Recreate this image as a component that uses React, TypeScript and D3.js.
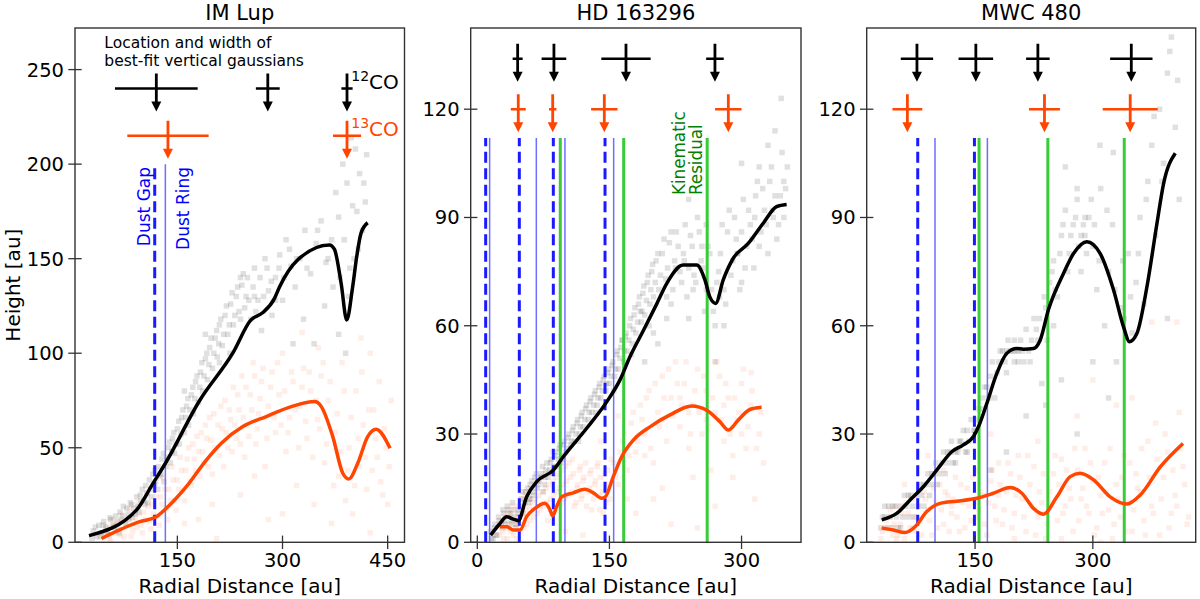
import React from "react";
import * as d3 from "d3";

type P = [number, number];

// ---------------- IM Lup ----------------
const imLupXDomain: P = [4, 474];
const imLupYDomain: P = [0, 272];
const imLupXTicks = [150, 300, 450];
const imLupYTicks = [0, 50, 100, 150, 200, 250];

const imLupCurve12: P[] = [
  [24, 3.5], [91.6, 17], [115, 31], [133, 41.8], [181.8, 75], [229, 100], [255, 117.6], [272, 121.5],
  [288.6, 129], [295.7, 135], [321.8, 149.4], [367, 157.3], [374, 155], [383.6, 137], [391.6, 117.6],
  [400, 135], [405.8, 151], [412, 163.5], [421.5, 169],
];
const imLupCurve13: P[] = [
  [41.7, 2], [96.3, 10.9], [120, 13.5], [134.3, 18], [162.8, 29.4], [191.3, 43.5], [212.7, 52.4],
  [243.4, 61.2], [276.8, 66.5], [314.7, 72], [345.6, 74.4], [355, 72], [371.7, 55.9], [386, 36.5],
  [394.5, 33.5], [407.3, 41.8], [421.5, 55.9], [433.5, 59.8], [453.4, 49.7],
];
const imLupScatter12: P[] = [
  [30, 6], [35, 3], [38, 9], [42, 5], [45, 11], [48, 8], [52, 4], [55, 12], [58, 9], [62, 14], [65, 7], [68, 16],
  [70, 12], [73, 19], [76, 10], [80, 15], [83, 21], [86, 13], [88, 18], [92, 24], [95, 16], [98, 22], [100, 28],
  [104, 20], [107, 26], [110, 33], [113, 24], [116, 30], [118, 38], [122, 28], [125, 35], [128, 44], [131, 32],
  [134, 40], [137, 50], [140, 42], [143, 55], [146, 47], [150, 60], [153, 52], [156, 66], [160, 58], [163, 72],
  [166, 62], [170, 78], [173, 68], [176, 85], [180, 74], [183, 90], [186, 80], [190, 97], [193, 86], [196, 103],
  [200, 92], [204, 108], [207, 98], [210, 115], [214, 104], [218, 120], [222, 110], [226, 126], [230, 115],
  [234, 130], [238, 122], [242, 136], [246, 124], [250, 140], [255, 118], [260, 145], [265, 128], [270, 112],
  [275, 150], [280, 133], [285, 120], [290, 140], [296, 152], [300, 128], [305, 160], [312, 146], [318, 135],
  [325, 150], [332, 165], [340, 142], [348, 158], [355, 170], [362, 148], [370, 160], [376, 185], [382, 140],
  [386, 200], [390, 100], [394, 130], [398, 214], [402, 150], [406, 175], [410, 195], [414, 165], [418, 180],
  [420, 205], [380, 110], [360, 125], [345, 105], [330, 118], [315, 105], [404, 208], [392, 190], [380, 172],
  [400, 178], [160, 80], [190, 110], [210, 95], [240, 140], [260, 130], [225, 100],
  [28, 2], [33, 8], [40, 3], [44, 9], [50, 6], [54, 13], [60, 8], [64, 11], [67, 5], [72, 14], [78, 18], [81, 12],
  [85, 20], [90, 15], [94, 19], [97, 25], [102, 22], [105, 30], [108, 21], [112, 28], [115, 36], [119, 32],
  [123, 40], [127, 36], [130, 47], [135, 45], [139, 53], [142, 48], [145, 58], [148, 52], [152, 64], [155, 57],
  [158, 70], [162, 66], [165, 76], [168, 70], [172, 82], [175, 76], [178, 88], [182, 82], [185, 95], [188, 88],
  [192, 100], [195, 94], [198, 108], [202, 100], [206, 112], [209, 105], [212, 118], [216, 110], [220, 125],
  [224, 115], [228, 132], [232, 120], [236, 135], [240, 118], [244, 142], [248, 130], [252, 128], [258, 135],
  [262, 122], [268, 140], [273, 130], [278, 145], [284, 138], [290, 128], [295, 145], [302, 140], [310, 155],
  [320, 150], [335, 145], [350, 165], [365, 150], [372, 135], [388, 160], [396, 145], [408, 155], [416, 190],
];
const imLupScatter13: P[] = [
  [45, 3], [50, 8], [55, 1], [58, 12], [62, 5], [66, 10], [70, 15], [74, 3], [78, 9], [82, 18], [86, 6], [90, 13],
  [94, 21], [98, 9], [102, 16], [106, 25], [110, 11], [114, 20], [118, 30], [122, 14], [126, 24], [130, 34],
  [134, 18], [138, 28], [142, 40], [146, 22], [150, 33], [154, 45], [158, 27], [162, 38], [166, 50], [170, 30],
  [174, 44], [178, 56], [182, 35], [186, 48], [190, 62], [194, 40], [198, 54], [202, 68], [206, 2], [210, 46],
  [214, 60], [218, 75], [222, 50], [226, 65], [230, 82], [234, 55], [238, 70], [242, 88], [246, 45], [250, 62],
  [254, 78], [258, 95], [262, 52], [266, 68], [270, 85], [275, 40], [280, 72], [285, 90], [290, 58], [295, 78],
  [300, 100], [305, 48], [310, 66], [315, 85], [320, 30], [325, 72], [330, 92], [335, 55], [340, 80], [345, 20],
  [350, 65], [355, 88], [360, 42], [365, 75], [370, 10], [375, 58], [380, 35], [385, 95], [390, 22], [395, 50],
  [400, 15], [405, 80], [410, 40], [415, 62], [420, 28], [425, 5], [430, 70], [435, 45], [440, 32], [445, 60],
  [450, 20], [455, 75], [200, 20], [180, 12], [160, 10], [240, 25], [260, 35], [300, 15], [280, 12], [328, 111],
  [351, 103], [412, 108], [425, 100],
  [48, 5], [53, 2], [60, 9], [68, 4], [72, 11], [80, 13], [84, 3], [92, 8], [96, 15], [100, 5], [104, 12],
  [108, 19], [112, 7], [116, 15], [120, 24], [124, 9], [128, 20], [132, 28], [136, 12], [140, 22], [144, 33],
  [148, 17], [152, 28], [156, 38], [160, 22], [164, 44], [168, 32], [172, 52], [176, 38], [180, 48], [184, 58],
  [188, 42], [192, 55], [196, 66], [200, 36], [204, 50], [208, 62], [212, 72], [216, 40], [220, 58], [224, 70],
  [228, 48], [232, 62], [236, 78], [240, 52], [244, 66], [248, 82], [252, 56], [256, 70], [260, 88], [264, 60],
  [268, 76], [272, 92], [278, 55], [283, 82], [288, 66], [293, 95], [298, 62], [303, 80], [308, 58], [313, 90],
  [318, 70], [323, 50], [328, 82], [333, 64], [338, 90], [343, 45], [348, 75], [353, 60], [358, 95], [363, 52],
  [368, 85], [373, 30], [378, 68], [383, 48], [388, 80], [393, 38], [398, 66], [403, 30], [408, 55], [413, 90],
  [418, 45], [423, 70], [428, 38], [433, 55], [438, 85], [443, 25], [448, 50], [452, 40],
];
const imLupGaussZ: P = [240, 215];
const imLupGauss12: P[] = [[120, 59], [279, 17], [392, 8]];
const imLupGauss13: P[] = [[136.6, 58], [392, 20]];
const imLupGaps = [117.7];
const imLupRings = [132.9];
const imLupKinematic: number[] = [];
const imLupLineTop = 200;

// ---------------- HD 163296 ----------------
const hdXDomain: P = [-7.5, 367.5];
const hdYDomain: P = [0, 142.5];
const hdXTicks = [0, 150, 300];
const hdYTicks = [0, 30, 60, 90, 120];

const hdCurve12: P[] = [
  [15.2, 2], [25, 5], [33.4, 7.1], [40.9, 6.4], [46.5, 6], [56, 12.6], [67.4, 16.8], [86.3, 20], [97.6, 23.7],
  [124.2, 31.6], [146.9, 38.9], [162, 45], [173.3, 51.4], [188.4, 58.6], [203.6, 66], [215, 71.7], [233.8, 76.8],
  [249, 76.8], [258.4, 72.7], [264, 68], [270.6, 66.2], [279.2, 72.7], [290.6, 78.7], [307.6, 82.8],
  [324.6, 88.4], [339.8, 93], [351.2, 93.6],
];
const hdCurve13: P[] = [
  [25.8, 4.3], [33.4, 4.3], [40.9, 3.4], [48.5, 3.4], [56, 7.1], [65.5, 9.4], [76.8, 10.8], [82.5, 9], [85.6, 7.3],
  [90.1, 9.9], [95.8, 12.6], [109, 13.7], [122.2, 14.7], [131.7, 13.7], [141.2, 12.2], [145, 12.5], [154.4, 18.2],
  [163.9, 23.7], [177.1, 28.3], [196, 32], [218.7, 35.3], [243.4, 37.8], [260.4, 36.6], [275.5, 33.4],
  [285, 31.1], [296.3, 33.9], [309.5, 36.8], [322.8, 37.4],
];
const hdScatter12: P[] = [
  [15, 3], [18, 1], [20, 5], [22, 2], [25, 6], [28, 4], [30, 8], [32, 5], [35, 9], [38, 6], [40, 11], [42, 7],
  [45, 5], [47, 9], [50, 12], [52, 8], [55, 14], [58, 11], [60, 16], [63, 13], [65, 18], [68, 15], [70, 17],
  [73, 19], [76, 16], [78, 20], [80, 18], [83, 22], [86, 19], [88, 24], [90, 21], [93, 26], [96, 23], [98, 27],
  [100, 25], [103, 29], [106, 27], [108, 31], [110, 28], [113, 33], [116, 30], [118, 35], [120, 32], [123, 37],
  [126, 34], [128, 39], [130, 36], [133, 41], [136, 38], [138, 43], [140, 40], [143, 45], [146, 42], [148, 47],
  [150, 44], [153, 49], [156, 46], [158, 52], [160, 48], [163, 54], [166, 50], [168, 57], [170, 53], [173, 60],
  [176, 55], [178, 63], [180, 58], [183, 66], [186, 61], [188, 69], [190, 63], [193, 72], [196, 66], [198, 75],
  [200, 68], [203, 78], [206, 70], [210, 80], [214, 73], [218, 83], [222, 70], [226, 86], [230, 75], [234, 80],
  [238, 68], [242, 85], [246, 74], [250, 90], [254, 78], [258, 64], [262, 82], [266, 70], [270, 60], [274, 75],
  [278, 88], [282, 66], [286, 92], [290, 78], [294, 84], [298, 70], [302, 95], [306, 82], [310, 88], [314, 76],
  [318, 100], [322, 86], [326, 92], [330, 80], [334, 104], [338, 96], [342, 88], [346, 108], [350, 98],
  [345, 123], [330, 110], [300, 105], [240, 95], [270, 50], [205, 55], [215, 62], [190, 50], [60, 12], [75, 14],
  [95, 22], [115, 28], [135, 36], [155, 42], [175, 52], [195, 60], [215, 68], [235, 78], [255, 82], [275, 68],
  [295, 80], [315, 90], [335, 92], [348, 100], [225, 76], [245, 70], [185, 64], [165, 56],
  [16, 1], [19, 4], [21, 2], [24, 7], [27, 5], [29, 9], [31, 6], [34, 10], [37, 8], [39, 5], [41, 9], [44, 4],
  [46, 8], [49, 10], [51, 14], [54, 11], [57, 15], [59, 12], [62, 17], [64, 14], [67, 19], [69, 16], [72, 18],
  [74, 21], [77, 18], [79, 22], [82, 20], [84, 23], [87, 21], [89, 25], [92, 23], [94, 27], [97, 24], [99, 28],
  [102, 26], [104, 30], [107, 28], [109, 32], [112, 30], [114, 34], [117, 32], [119, 36], [122, 34], [124, 38],
  [127, 36], [129, 40], [132, 38], [134, 42], [137, 40], [139, 44], [142, 42], [144, 46], [147, 44], [149, 48],
  [152, 46], [154, 50], [157, 48], [159, 53], [162, 51], [164, 56], [167, 53], [169, 58], [172, 56], [174, 62],
  [177, 59], [179, 65], [182, 61], [184, 68], [187, 64], [189, 71], [192, 67], [194, 74], [197, 70], [199, 77],
  [202, 72], [205, 80], [208, 74], [212, 84], [216, 76], [220, 86], [224, 78], [228, 82], [232, 72], [236, 88],
  [240, 76], [244, 82], [248, 72], [252, 86], [256, 76], [260, 70], [264, 80], [268, 64], [272, 72], [276, 80],
  [280, 70], [284, 86], [288, 74], [292, 90], [296, 80], [300, 86], [304, 76], [308, 92], [312, 84], [316, 96],
  [320, 82], [324, 98], [328, 88], [332, 100], [336, 90], [340, 84], [344, 96], [348, 90], [352, 104],
  [240, 62], [220, 66], [200, 58], [260, 88], [280, 60], [300, 72], [320, 104], [338, 114],
];
const hdScatter13: P[] = [
  [25, 2], [28, 6], [30, 1], [33, 4], [35, 8], [38, 3], [40, 10], [43, 5], [45, 1], [48, 7], [50, 12], [53, 4],
  [55, 9], [58, 14], [60, 6], [63, 11], [65, 16], [68, 8], [70, 13], [73, 18], [75, 10], [78, 15], [80, 6],
  [83, 12], [86, 17], [88, 9], [90, 14], [93, 19], [96, 11], [98, 16], [100, 21], [103, 13], [106, 18], [108, 23],
  [110, 10], [113, 15], [116, 20], [118, 12], [120, 17], [123, 22], [126, 14], [128, 19], [130, 9], [133, 16],
  [136, 21], [138, 13], [140, 18], [143, 8], [146, 15], [148, 20], [150, 12], [155, 22], [160, 16], [165, 28],
  [170, 20], [175, 33], [180, 25], [185, 38], [190, 30], [195, 42], [200, 22], [205, 36], [210, 46], [215, 28],
  [220, 40], [225, 50], [230, 32], [235, 44], [240, 26], [245, 38], [250, 48], [255, 30], [260, 42], [265, 20],
  [270, 36], [275, 46], [280, 28], [285, 40], [290, 18], [295, 34], [300, 44], [305, 26], [310, 38], [315, 12],
  [320, 30], [325, 22], [180, 8], [200, 12], [220, 5], [250, 4], [270, 10], [160, 35], [140, 28], [120, 2],
  [100, 3], [85, 25], [311, 47], [230, 40], [260, 34], [280, 38], [210, 34], [190, 24], [240, 36], [300, 30],
  [26, 5], [29, 3], [31, 7], [34, 1], [36, 5], [39, 8], [41, 2], [44, 6], [46, 10], [49, 3], [51, 8], [54, 13],
  [56, 5], [59, 10], [61, 15], [64, 7], [66, 12], [69, 17], [71, 9], [74, 14], [76, 19], [79, 11], [81, 16],
  [84, 8], [87, 13], [89, 18], [92, 10], [94, 15], [97, 20], [99, 12], [101, 17], [104, 22], [107, 14], [109, 19],
  [112, 11], [114, 16], [117, 21], [119, 13], [121, 18], [124, 10], [127, 15], [129, 20], [132, 12], [134, 17],
  [137, 22], [139, 9], [142, 14], [145, 19], [147, 11], [149, 16], [152, 23], [157, 18], [162, 25], [167, 30],
  [172, 24], [177, 36], [182, 28], [187, 34], [192, 40], [197, 26], [202, 44], [207, 32], [212, 40], [217, 48],
  [222, 35], [227, 44], [232, 38], [237, 50], [242, 30], [247, 42], [252, 36], [257, 46], [262, 32], [267, 40],
  [272, 50], [277, 34], [282, 44], [287, 30], [292, 40], [297, 36], [302, 48], [307, 32], [312, 42], [317, 26],
  [322, 36], [210, 15], [245, 18], [290, 24], [170, 12],
];
const hdGaussZ: P = [134, 120];
const hdGauss12: P[] = [[45.8, 5.7], [87, 14], [168.8, 28], [269.8, 10]];
const hdGauss13: P[] = [[46.5, 8.5], [85.6, 4.2], [144.2, 15], [285, 15]];
const hdGaps = [9.5, 47.7, 86.3, 145];
const hdRings = [14, 67, 99.5, 154.8];
const hdKinematic = [94.2, 166.2, 261];
const hdLineTop = 112;

// ---------------- MWC 480 ----------------
const mwcXDomain: P = [12, 431];
const mwcYDomain: P = [0, 142.5];
const mwcXTicks = [150, 300];
const mwcYTicks = [0, 30, 60, 90, 120];

const mwcCurve12: P[] = [
  [31.1, 6.2], [50.2, 8], [67.2, 11.7], [84.1, 15.4], [101.2, 20], [120.3, 25.1], [135.1, 27], [148, 29.3],
  [154.3, 32], [165, 38.5], [177.7, 46.8], [190.5, 52.4], [203.2, 53.7], [211.6, 53.5], [224.4, 53.7],
  [232.9, 56], [243.5, 64.5], [262.6, 74.5], [275.4, 80], [292.4, 83.3], [309.4, 80], [326.4, 69.9],
  [339.1, 59.7], [346.8, 55.6], [356.2, 57.9], [368.9, 70.8], [381.7, 88.4], [390.1, 99.4], [405, 107.8],
];
const mwcCurve13: P[] = [
  [31.1, 4], [45.9, 3.4], [60.8, 2.7], [73.6, 4.3], [88.5, 8.5], [105.4, 10.8], [126.7, 11.4], [152.2, 12.2],
  [173.4, 13.6], [194.7, 15.2], [209.6, 13.6], [224.4, 9.4], [237.1, 7.8], [254.2, 12.6], [271.2, 18.2],
  [283.9, 19.1], [300.9, 17.3], [322.1, 12.6], [343.4, 10.6], [360.4, 13.1], [385.9, 20.9], [414.8, 27.4],
];
const mwcScatter12: P[] = [
  [30, 4], [35, 7], [40, 10], [45, 4], [50, 7], [55, 10], [60, 13], [65, 7], [70, 10], [75, 13], [80, 16],
  [85, 10], [90, 19], [95, 16], [100, 22], [105, 19], [110, 25], [115, 22], [120, 28], [125, 25], [130, 28],
  [135, 31], [140, 25], [145, 34], [150, 31], [155, 37], [160, 40], [165, 43], [170, 46], [175, 40], [180, 50],
  [185, 53], [190, 47], [195, 53], [200, 56], [205, 50], [210, 53], [215, 59], [220, 50], [225, 62], [230, 56],
  [235, 44], [240, 65], [245, 72], [250, 78], [255, 68], [260, 85], [265, 92], [270, 80], [275, 88], [280, 95],
  [285, 75], [290, 85], [295, 90], [300, 82], [305, 70], [310, 98], [315, 60], [320, 75], [325, 88], [330, 50],
  [335, 65], [340, 62], [345, 80], [350, 58], [355, 72], [360, 90], [365, 66], [370, 100], [375, 110], [380, 85],
  [385, 120], [390, 105], [395, 130], [400, 140], [405, 115], [410, 95], [395, 62], [215, 35], [190, 25],
  [170, 20], [240, 38], [260, 45], [280, 30], [300, 50], [320, 40], [309, 110], [326, 108], [265, 104],
  [280, 98], [398, 136], [35, 10], [45, 10], [55, 4], [65, 13], [85, 16], [95, 19], [115, 25], [125, 22],
  [140, 31], [190, 53], [200, 50], [205, 53], [285, 85], [290, 90], [250, 60],
  [32, 7], [38, 4], [42, 7], [48, 10], [52, 4], [58, 7], [62, 10], [68, 13], [72, 7], [78, 10], [82, 13], [88, 16],
  [92, 13], [98, 19], [102, 16], [108, 22], [112, 19], [118, 25], [122, 22], [128, 25], [132, 28], [138, 25],
  [142, 28], [148, 31], [152, 34], [158, 37], [162, 43], [168, 40], [172, 50], [178, 47], [182, 53], [188, 50],
  [192, 56], [198, 53], [202, 53], [208, 56], [212, 50], [218, 53], [222, 56], [228, 59], [232, 62], [238, 68],
  [242, 56], [248, 75], [252, 70], [258, 80], [262, 88], [268, 75], [272, 85], [278, 90], [282, 82], [288, 88],
  [292, 80], [298, 95], [302, 88], [308, 78], [318, 92], [328, 70], [338, 78], [348, 68], [358, 80], [368, 95],
  [378, 118], [388, 100], [408, 128],
];
const mwcScatter13: P[] = [
  [30, 1], [35, 4], [40, 7], [45, 2], [50, 10], [55, 5], [60, 1], [65, 8], [70, 12], [75, 3], [80, 6], [85, 14],
  [90, 9], [95, 2], [100, 11], [105, 16], [110, 5], [115, 13], [120, 8], [125, 18], [130, 3], [135, 11],
  [140, 15], [145, 6], [150, 20], [155, 9], [160, 13], [165, 2], [170, 17], [175, 10], [180, 22], [185, 5],
  [190, 14], [195, 19], [200, 8], [205, 24], [210, 12], [215, 3], [220, 16], [225, 21], [230, 7], [235, 11],
  [240, 1], [245, 14], [250, 19], [255, 6], [260, 23], [265, 10], [270, 15], [275, 3], [280, 20], [285, 12],
  [290, 26], [295, 8], [300, 17], [305, 4], [310, 13], [315, 22], [320, 9], [325, 1], [330, 16], [335, 7],
  [340, 24], [345, 11], [350, 3], [355, 19], [360, 14], [365, 6], [370, 28], [375, 10], [380, 33], [385, 2],
  [390, 18], [395, 25], [400, 8], [405, 13], [410, 36], [415, 21], [420, 5], [90, 24], [130, 26], [170, 30],
  [230, 28], [280, 35], [350, 40], [60, 16], [110, 20], [200, 1], [260, 1], [310, 0], [375, 61], [407, 61],
  [300, 45], [330, 38], [40, 4], [50, 1], [70, 4], [120, 10], [150, 11], [180, 13],
  [32, 3], [37, 6], [42, 9], [47, 5], [52, 2], [57, 8], [62, 11], [67, 4], [72, 7], [77, 10], [82, 2], [87, 12],
  [92, 6], [97, 15], [102, 4], [107, 9], [112, 14], [117, 3], [122, 12], [127, 7], [132, 16], [137, 4], [142, 10],
  [147, 18], [152, 7], [157, 14], [162, 5], [167, 11], [172, 20], [177, 6], [182, 16], [187, 9], [192, 22],
  [197, 4], [202, 13], [207, 18], [212, 7], [217, 24], [222, 10], [227, 2], [232, 14], [237, 19], [242, 5],
  [247, 11], [252, 24], [257, 16], [262, 8], [267, 20], [272, 12], [277, 26], [282, 6], [287, 15], [292, 10],
  [297, 22], [302, 2], [307, 18], [312, 8], [317, 14], [322, 26], [327, 5], [332, 12], [337, 18], [342, 3],
  [347, 22], [352, 9], [357, 15], [362, 26], [367, 2], [372, 18], [377, 8], [382, 23], [387, 12], [392, 30],
  [397, 4], [402, 20], [407, 10], [412, 26], [417, 16], [422, 7],
];
const mwcGaussZ: P = [134, 120];
const mwcGauss12: P[] = [[76, 20.6], [151, 22], [230, 15], [349, 27]];
const mwcGauss13: P[] = [[63.8, 19], [238.4, 19.7], [347.6, 35]];
const mwcGaps = [77, 149.2];
const mwcRings = [99, 165.7];
const mwcKinematic = [155.1, 242.7, 340];
const mwcLineTop = 112;

const FONT = "'DejaVu Sans', sans-serif";
const RED = "#ff4500";
const AXIS = "#333333";

function Cross({ x, y, x0, x1, color }: { x: number; y: number; x0: number; x1: number; color: string }) {
  return (
    <g>
      <line x1={x0} x2={x1} y1={y} y2={y} stroke={color} strokeWidth={2.6} />
      <line x1={x} x2={x} y1={y - 15} y2={y + 14} stroke={color} strokeWidth={2.8} />
      <polygon points={`${x - 5},${y + 13} ${x + 5},${y + 13} ${x},${y + 23}`} fill={color} />
    </g>
  );
}

export default function App() {
  const top = 28;
  const bottom = 542.3;
  const panels = [
    {
      title: "IM Lup", left: 75, right: 404.5, xDomain: imLupXDomain, yDomain: imLupYDomain, xTicks: imLupXTicks,
      yTicks: imLupYTicks, c12: imLupCurve12, c13: imLupCurve13, s12: imLupScatter12, s13: imLupScatter13,
      gz: imLupGaussZ, g12: imLupGauss12, g13: imLupGauss13, gaps: imLupGaps, rings: imLupRings,
      kin: imLupKinematic, lineTop: imLupLineTop,
    },
    {
      title: "HD 163296", left: 470.7, right: 801, xDomain: hdXDomain, yDomain: hdYDomain, xTicks: hdXTicks,
      yTicks: hdYTicks, c12: hdCurve12, c13: hdCurve13, s12: hdScatter12, s13: hdScatter13,
      gz: hdGaussZ, g12: hdGauss12, g13: hdGauss13, gaps: hdGaps, rings: hdRings,
      kin: hdKinematic, lineTop: hdLineTop,
    },
    {
      title: "MWC 480", left: 866.7, right: 1195.7, xDomain: mwcXDomain, yDomain: mwcYDomain, xTicks: mwcXTicks,
      yTicks: mwcYTicks, c12: mwcCurve12, c13: mwcCurve13, s12: mwcScatter12, s13: mwcScatter13,
      gz: mwcGaussZ, g12: mwcGauss12, g13: mwcGauss13, gaps: mwcGaps, rings: mwcRings,
      kin: mwcKinematic, lineTop: mwcLineTop,
    },
  ];

  return (
    <svg
      width={1200}
      height={599}
      style={{ position: "absolute", left: 0, top: 0, background: "#fff" }}
      fontFamily={FONT}
    >
      <rect x={0} y={0} width={1200} height={599} fill="#fff" />
      {panels.map((p, pi) => {
        const xs = d3.scaleLinear().domain(p.xDomain).range([p.left, p.right]);
        const ys = d3.scaleLinear().domain(p.yDomain).range([bottom, top]);
        const line = d3
          .line<P>()
          .x((d) => xs(d[0]))
          .y((d) => ys(d[1]))
          .curve(d3.curveMonotoneX);
        const sq = 5.5;
        const cx = (p.left + p.right) / 2;
        return (
          <g key={pi}>
            <defs>
              <clipPath id={`clip${pi}`}>
                <rect x={p.left} y={top} width={p.right - p.left} height={bottom - top} />
              </clipPath>
            </defs>
            <g clipPath={`url(#clip${pi})`}>
              {p.s12.map((d, i) => (
                <rect key={`a${i}`} x={xs(d[0]) - sq / 2} y={ys(d[1]) - sq / 2} width={sq} height={sq}
                  fill="#000" fillOpacity={0.12} />
              ))}
              {p.s13.map((d, i) => (
                <rect key={`b${i}`} x={xs(d[0]) - sq / 2} y={ys(d[1]) - sq / 2} width={sq} height={sq}
                  fill={RED} fillOpacity={0.09} />
              ))}
              {p.rings.map((r, i) => (
                <line key={`r${i}`} x1={xs(r)} x2={xs(r)} y1={ys(0)} y2={ys(p.lineTop)} stroke="#6e6eff"
                  strokeWidth={1.5} />
              ))}
              {p.gaps.map((r, i) => (
                <line key={`g${i}`} x1={xs(r)} x2={xs(r)} y1={ys(0)} y2={ys(p.lineTop)} stroke="#1a1aff"
                  strokeWidth={3} strokeDasharray="11,5.5" />
              ))}
              {p.kin.map((r, i) => (
                <line key={`k${i}`} x1={xs(r)} x2={xs(r)} y1={ys(0)} y2={ys(p.lineTop)} stroke="#38cc38"
                  strokeWidth={3} />
              ))}
              <path d={line(p.c13) || ""} fill="none" stroke={RED} strokeWidth={3.5} strokeLinejoin="round" />
              <path d={line(p.c12) || ""} fill="none" stroke="#000" strokeWidth={3.5} strokeLinejoin="round" />
              {p.g12.map((g, i) => (
                <Cross key={`c${i}`} x={xs(g[0])} y={ys(p.gz[0])} x0={xs(g[0] - g[1])} x1={xs(g[0] + g[1])}
                  color="#000" />
              ))}
              {p.g13.map((g, i) => (
                <Cross key={`d${i}`} x={xs(g[0])} y={ys(p.gz[1])} x0={xs(g[0] - g[1])} x1={xs(g[0] + g[1])}
                  color={RED} />
              ))}
            </g>
            <rect x={p.left} y={top} width={p.right - p.left} height={bottom - top} fill="none" stroke={AXIS}
              strokeWidth={1.4} />
            {p.yTicks.map((t) => (
              <g key={`yt${t}`}>
                <line x1={p.left - 6.7} x2={p.left + 6.7} y1={ys(t)} y2={ys(t)} stroke={AXIS} strokeWidth={1.3} />
                <text x={p.left - 11} y={ys(t)} dy="0.36em" textAnchor="end" fontSize={19.5} fill="#000">
                  {t}
                </text>
              </g>
            ))}
            {p.xTicks.map((t) => (
              <g key={`xt${t}`}>
                <line x1={xs(t)} x2={xs(t)} y1={bottom - 6.7} y2={bottom + 6.7} stroke={AXIS} strokeWidth={1.3} />
                <text x={xs(t)} y={567} textAnchor="middle" fontSize={19.5} fill="#000">
                  {t}
                </text>
              </g>
            ))}
            <text x={cx} y={19.5} textAnchor="middle" fontSize={21} fill="#000">
              {p.title}
            </text>
            <text x={cx} y={592.5} textAnchor="middle" fontSize={20} fill="#000">
              Radial Distance [au]
            </text>
            {pi === 0 && (
              <g>
                <text x={xs(45.8)} y={ys(261.2)} fontSize={15.5} fill="#000">Location and width of</text>
                <text x={xs(45.8)} y={ys(252)} fontSize={15.5} fill="#000">best-fit vertical gaussians</text>
                <text x={xs(398)} y={ys(240)} fill="#000">
                  <tspan fontSize={14} dy={-7.5}>12</tspan>
                  <tspan fontSize={20} dy={7.5}>CO</tspan>
                </text>
                <text x={xs(398)} y={ys(215)} fill={RED}>
                  <tspan fontSize={14} dy={-7.5}>13</tspan>
                  <tspan fontSize={20} dy={7.5}>CO</tspan>
                </text>
                <text transform={`translate(${xs(111)},${ys(198.5)}) rotate(-90)`} textAnchor="end"
                  fontSize={17} fill="#0000ff">Dust Gap</text>
                <text transform={`translate(${xs(166.6)},${ys(198.5)}) rotate(-90)`} textAnchor="end"
                  fontSize={17} fill="#0000ff">Dust Ring</text>
              </g>
            )}
            {pi === 1 && (
              <g>
                <text transform={`translate(${xs(235.8)},${ys(96.2)}) rotate(-90)`} textAnchor="start"
                  fontSize={16.8} fill="#008000">Kinematic</text>
                <text transform={`translate(${xs(254.8)},${ys(96.2)}) rotate(-90)`} textAnchor="start"
                  fontSize={16.8} fill="#008000">Residual</text>
              </g>
            )}
          </g>
        );
      })}
      <text transform={`translate(19.5,${(top + bottom) / 2}) rotate(-90)`} textAnchor="middle" fontSize={20}
        fill="#000">Height [au]</text>
    </svg>
  );
}
